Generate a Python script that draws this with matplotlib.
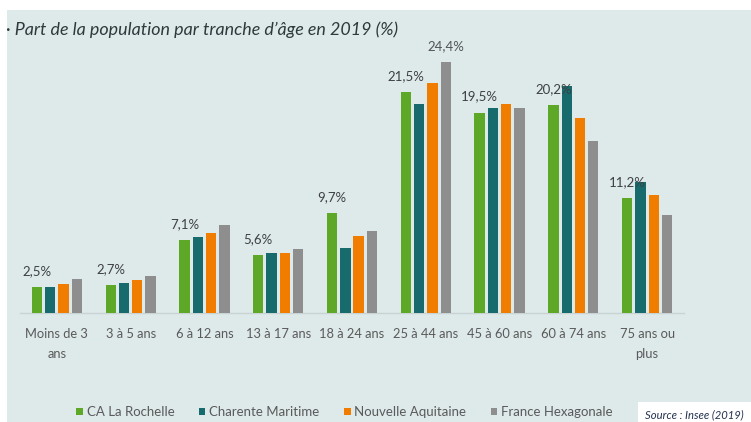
import numpy as np
import matplotlib
matplotlib.use("Agg")
import matplotlib.pyplot as plt
from matplotlib.patches import Rectangle, Patch

plt.rcParams['font.family'] = ['Lato', 'DejaVu Sans']

categories = ["Moins de 3\nans", "3 à 5 ans", "6 à 12 ans", "13 à 17 ans", "18 à 24 ans",
              "25 à 44 ans", "45 à 60 ans", "60 à 74 ans", "75 ans ou\nplus"]
series_names = ["CA La Rochelle", "Charente Maritime", "Nouvelle Aquitaine", "France Hexagonale"]
ca_rochelle = [2.5, 2.7, 7.1, 5.6, 9.7, 21.5, 19.5, 20.2, 11.2]
charente = [2.5, 2.9, 7.4, 5.8, 6.3, 20.3, 19.9, 22.1, 12.7]
nouvelle_aq = [2.8, 3.2, 7.8, 5.8, 7.5, 22.4, 20.3, 19.0, 11.5]
france = [3.3, 3.6, 8.6, 6.2, 8.0, 24.4, 19.9, 16.7, 9.5]
colors = ["#5ea827", "#176b6c", "#f07c00", "#8e8e8e"]

W, H = 751, 422
fig = plt.figure(figsize=(W / 100, H / 100), dpi=100)
fig.patch.set_facecolor("white")

bg = "#dee9e9"
fig.patches.append(Rectangle((7 / W, 0), 1 - 7 / W, (H - 10) / H,
                             transform=fig.transFigure, facecolor=bg, edgecolor="none", zorder=-5))

# axes placed in pixels: baseline at y=313 from top, 10.28 px per %
ax_left, ax_right = 20, 684
ax_bottom = H - 313
ax_top = ax_bottom + 25 * 10.28
ax = fig.add_axes([ax_left / W, ax_bottom / H, (ax_right - ax_left) / W, (ax_top - ax_bottom) / H])
ax.set_facecolor("none")
ax.set_zorder(2)

x = np.arange(len(categories))
step = 0.18
width = 0.14
all_series = [ca_rochelle, charente, nouvelle_aq, france]
for i, (vals, col) in enumerate(zip(all_series, colors)):
    ax.bar(x + (i - 1.5) * step, vals, width=width, color=col, zorder=3)

# value labels (green bars, plus the France bar for 25-44 ans)
for xi, v in zip(x, ca_rochelle):
    ax.annotate(f"{v:.1f}%".replace(".", ","), (xi - 1.5 * step, v), xytext=(0, 11.5),
                textcoords="offset points", ha="center", va="center", fontsize=9.5, color="#3c4044")
ax.annotate(f"{france[5]:.1f}%".replace(".", ","), (x[5] + 1.5 * step, france[5]), xytext=(0, 11.5),
            textcoords="offset points", ha="center", va="center", fontsize=9.5, color="#505458")

ax.set_xlim(-0.5, 8.5)
ax.set_ylim(0, 25)
ax.set_yticks([])
ax.set_xticks(x)
ax.set_xticklabels(categories, fontsize=9.3, color="#5a5a5a", linespacing=1.75)
ax.tick_params(axis="x", length=0, pad=11)
for s in ["top", "right", "left"]:
    ax.spines[s].set_visible(False)
ax.spines["bottom"].set_color("#c9d3d3")
ax.spines["bottom"].set_linewidth(1.0)

fig.text(6 / W, 1 - 30 / H, "· Part de la population par tranche d’âge en 2019 (%)",
         fontsize=12.9, style="italic", color="#2d3a3c", va="center", ha="left")

handles = [Patch(facecolor=c, edgecolor="none") for c in colors]
fig.legend(handles, series_names, loc="center left", bbox_to_anchor=(76 / W, 10 / H),
           ncol=4, frameon=False, fontsize=9.5, labelcolor="#5a5a5a",
           handlelength=0.5, handleheight=0.5, handletextpad=0.3, columnspacing=1.85,
           borderpad=0, borderaxespad=0)

fig.patches.append(Rectangle((638 / W, 0), 1 - 638 / W, 20 / H,
                             transform=fig.transFigure, facecolor="white", edgecolor="none", zorder=1))
fig.text(645 / W, 7 / H, "Source : Insee (2019)", fontsize=8.1, style="italic",
         color="#23324f", va="center", ha="left", zorder=2)

fig.savefig("out.png", dpi=100)
